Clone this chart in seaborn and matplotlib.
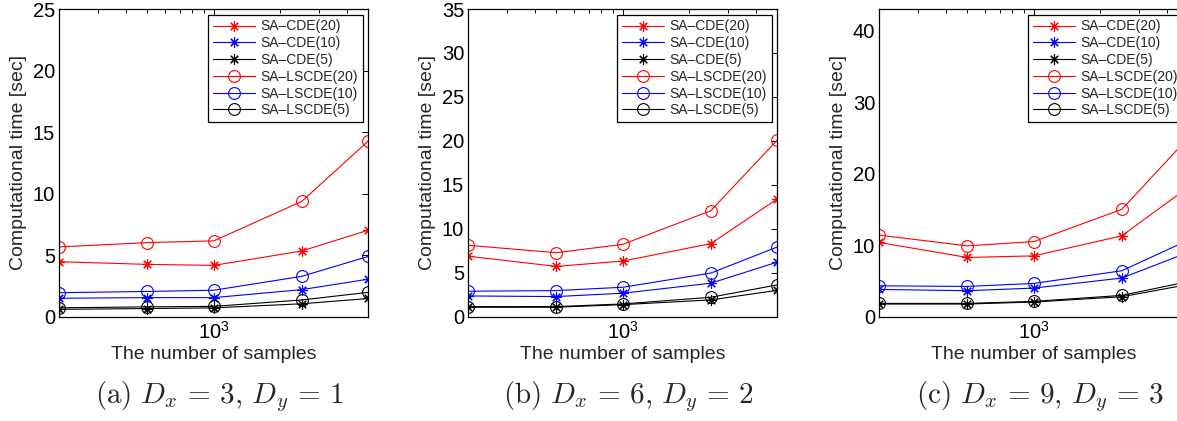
import numpy as np
import matplotlib
matplotlib.use("Agg")
import matplotlib.pyplot as plt
import matplotlib.ticker as mticker
import seaborn as sns
import pandas as pd

# number of samples (x axis, log scale)
samples = [200, 500, 1000, 2500, 5000]

# (a) Dx=3, Dy=1
cde20_a = [4.47, 4.25, 4.17, 5.34, 7.03]
cde10_a = [1.50, 1.55, 1.55, 2.20, 3.05]
cde5_a = [0.60, 0.66, 0.72, 1.05, 1.48]
lscde20_a = [5.67, 6.02, 6.16, 9.37, 14.28]
lscde10_a = [1.95, 2.05, 2.15, 3.28, 4.90]
lscde5_a = [0.72, 0.80, 0.84, 1.36, 1.98]

# (b) Dx=6, Dy=2
cde20_b = [6.88, 5.72, 6.33, 8.31, 13.40]
cde10_b = [2.36, 2.29, 2.67, 3.81, 6.21]
cde5_b = [1.07, 1.08, 1.37, 1.91, 3.00]
lscde20_b = [8.12, 7.28, 8.23, 12.05, 20.10]
lscde10_b = [2.90, 2.97, 3.35, 4.96, 7.93]
lscde5_b = [1.14, 1.15, 1.45, 2.21, 3.62]

# (c) Dx=9, Dy=3
cde20_c = [10.37, 8.28, 8.50, 11.30, 18.10]
cde10_c = [3.81, 3.63, 4.00, 5.40, 9.00]
cde5_c = [1.77, 1.77, 2.05, 2.79, 4.50]
lscde20_c = [11.40, 9.90, 10.50, 15.00, 25.00]
lscde10_c = [4.32, 4.23, 4.65, 6.42, 10.70]
lscde5_c = [1.86, 1.86, 2.14, 2.98, 4.90]

methods = ["SA\u2013CDE(20)", "SA\u2013CDE(10)", "SA\u2013CDE(5)",
           "SA\u2013LSCDE(20)", "SA\u2013LSCDE(10)", "SA\u2013LSCDE(5)"]
colors = ["#ff0000", "#0000ff", "#000000", "#ff0000", "#0000ff", "#000000"]
markers = [(8, 2, 0), (8, 2, 0), (8, 2, 0), "o", "o", "o"]

panels = [
    ("a", 3, 1, [cde20_a, cde10_a, cde5_a, lscde20_a, lscde10_a, lscde5_a], 25, np.arange(0, 26, 5)),
    ("b", 6, 2, [cde20_b, cde10_b, cde5_b, lscde20_b, lscde10_b, lscde5_b], 35, np.arange(0, 36, 5)),
    ("c", 9, 3, [cde20_c, cde10_c, cde5_c, lscde20_c, lscde10_c, lscde5_c], 43, np.arange(0, 41, 10)),
]


def to_frame(series):
    rows = []
    for name, vals in zip(methods, series):
        for n, v in zip(samples, vals):
            rows.append([name, n, v])
    return pd.DataFrame(rows, columns=["method", "samples", "time"])


sns.set_style("white")
plt.rcParams["font.family"] = ["Liberation Sans", "DejaVu Sans"]
plt.rcParams["axes.linewidth"] = 0.9

W, H = 1177, 421
fig = plt.figure(figsize=(W / 100, H / 100), dpi=100)

# axes boxes in pixels
lefts = [59.3, 468.3, 879.3]
ax_w = 309.0
top_px, bot_px = 9.0, 316.7

for (tag, dx, dy, series, ytop, yticks), lpx in zip(panels, lefts):
    ax = fig.add_axes([lpx / W, 1 - bot_px / H, ax_w / W, (bot_px - top_px) / H])
    df = to_frame(series)
    for name, col, mk in zip(methods, colors, markers):
        sub = df[df["method"] == name]
        sns.lineplot(data=sub, x="samples", y="time", ax=ax, color=col,
                     marker=mk, markersize=8.5 if mk == "o" else 7.5,
                     markerfacecolor="none", markeredgecolor=col,
                     markeredgewidth=0.8, linewidth=0.8, label=name)
    ax.set_xscale("log")
    ax.set_xlim(200, 5000)
    ax.set_ylim(0, ytop)
    ax.set_yticks(yticks)
    ax.xaxis.set_major_locator(mticker.FixedLocator([1000]))
    ax.xaxis.set_major_formatter(mticker.FixedFormatter([r"$\mathdefault{10^{3}}$"]))
    ax.xaxis.set_minor_locator(mticker.FixedLocator([300, 400, 500, 600, 700, 800, 900,
                                                     2000, 3000, 4000, 5000]))
    ax.xaxis.set_minor_formatter(mticker.NullFormatter())
    ax.tick_params(which="both", direction="in", top=True, right=True,
                   labelsize=14.5, width=0.7, colors="black")
    ax.tick_params(which="major", length=4, pad=3)
    ax.tick_params(which="minor", length=3)
    for sp in ax.spines.values():
        sp.set_color("black")
    ax.set_xlabel("The number of samples", fontsize=14, labelpad=2)
    ax.set_ylabel("Computational time [sec]", fontsize=14, labelpad=4)

    leg = ax.legend(loc="upper right", fontsize=10, frameon=True, fancybox=False,
                    edgecolor="black", borderaxespad=0.4, handlelength=3.0,
                    handletextpad=0.4, labelspacing=0.2, borderpad=0.35)
    leg.get_frame().set_linewidth(0.9)
    leg.get_frame().set_alpha(1)

    cx = (lpx + ax_w / 2 + 6) / W
    fig.text(cx, 1 - 403 / H,
             r"$\mathrm{(%s)}\ D_x\,=\,%d,\,D_y\,=\,%d$" % (tag, dx, dy),
             ha="center", va="baseline", fontsize=21, math_fontfamily="cm")

fig.savefig("out.png", dpi=100)
